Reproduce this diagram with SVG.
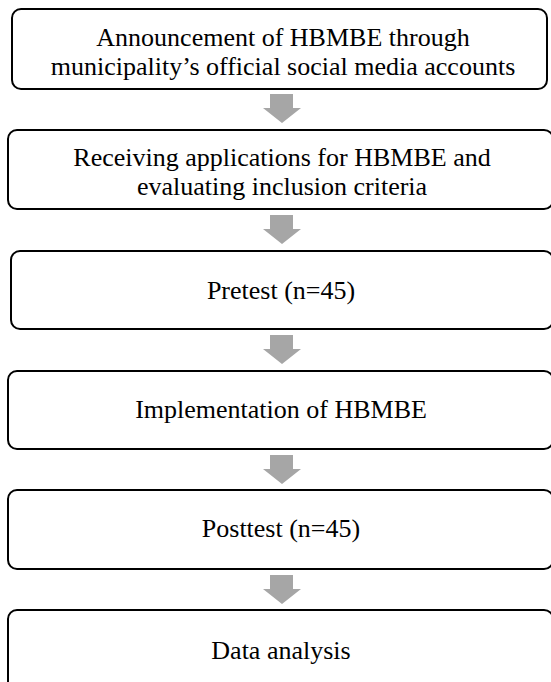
<svg xmlns="http://www.w3.org/2000/svg" width="551" height="682" viewBox="0 0 551 682">
<style>
.box{fill:#ffffff;stroke:#000000;stroke-width:2}
.t{font-family:"Liberation Serif","Times New Roman",serif;font-size:26px;fill:#000000;text-anchor:middle}
.arr{fill:#A6A6A6;stroke:none}
</style>
<defs>
<path id="arrow" d="M-12,0 H11 V14 H19 L0,29 L-19,14 H-12 Z"/>
</defs>
<rect width="551" height="682" fill="#ffffff"/>
<g id="connectors">
<use href="#arrow" class="arr" x="282" y="94"/>
<use href="#arrow" class="arr" x="282" y="215"/>
<use href="#arrow" class="arr" x="282" y="335"/>
<use href="#arrow" class="arr" x="282" y="455"/>
<use href="#arrow" class="arr" x="282" y="575"/>
</g>
<g id="node1">
<rect class="box" x="12" y="9" width="535" height="80" rx="9"/>
<text class="t" x="283" y="46">Announcement of HBMBE through</text>
<text class="t" x="283" y="75">municipality’s official social media accounts</text>
</g>
<g id="node2">
<rect class="box" x="8" y="130" width="545" height="79" rx="9"/>
<text class="t" x="282" y="166">Receiving applications for HBMBE and</text>
<text class="t" x="282" y="195">evaluating inclusion criteria</text>
</g>
<g id="node3">
<rect class="box" x="11" y="251" width="542" height="78" rx="9"/>
<text class="t" x="281" y="299">Pretest (n=45)</text>
</g>
<g id="node4">
<rect class="box" x="8" y="371" width="545" height="78" rx="9"/>
<text class="t" x="281" y="418">Implementation of HBMBE</text>
</g>
<g id="node5">
<rect class="box" x="8" y="490" width="545" height="79" rx="9"/>
<text class="t" x="281" y="537">Posttest (n=45)</text>
</g>
<g id="node6">
<rect class="box" x="8" y="610" width="545" height="80" rx="9"/>
<text class="t" x="281" y="659">Data analysis</text>
</g>
</svg>
